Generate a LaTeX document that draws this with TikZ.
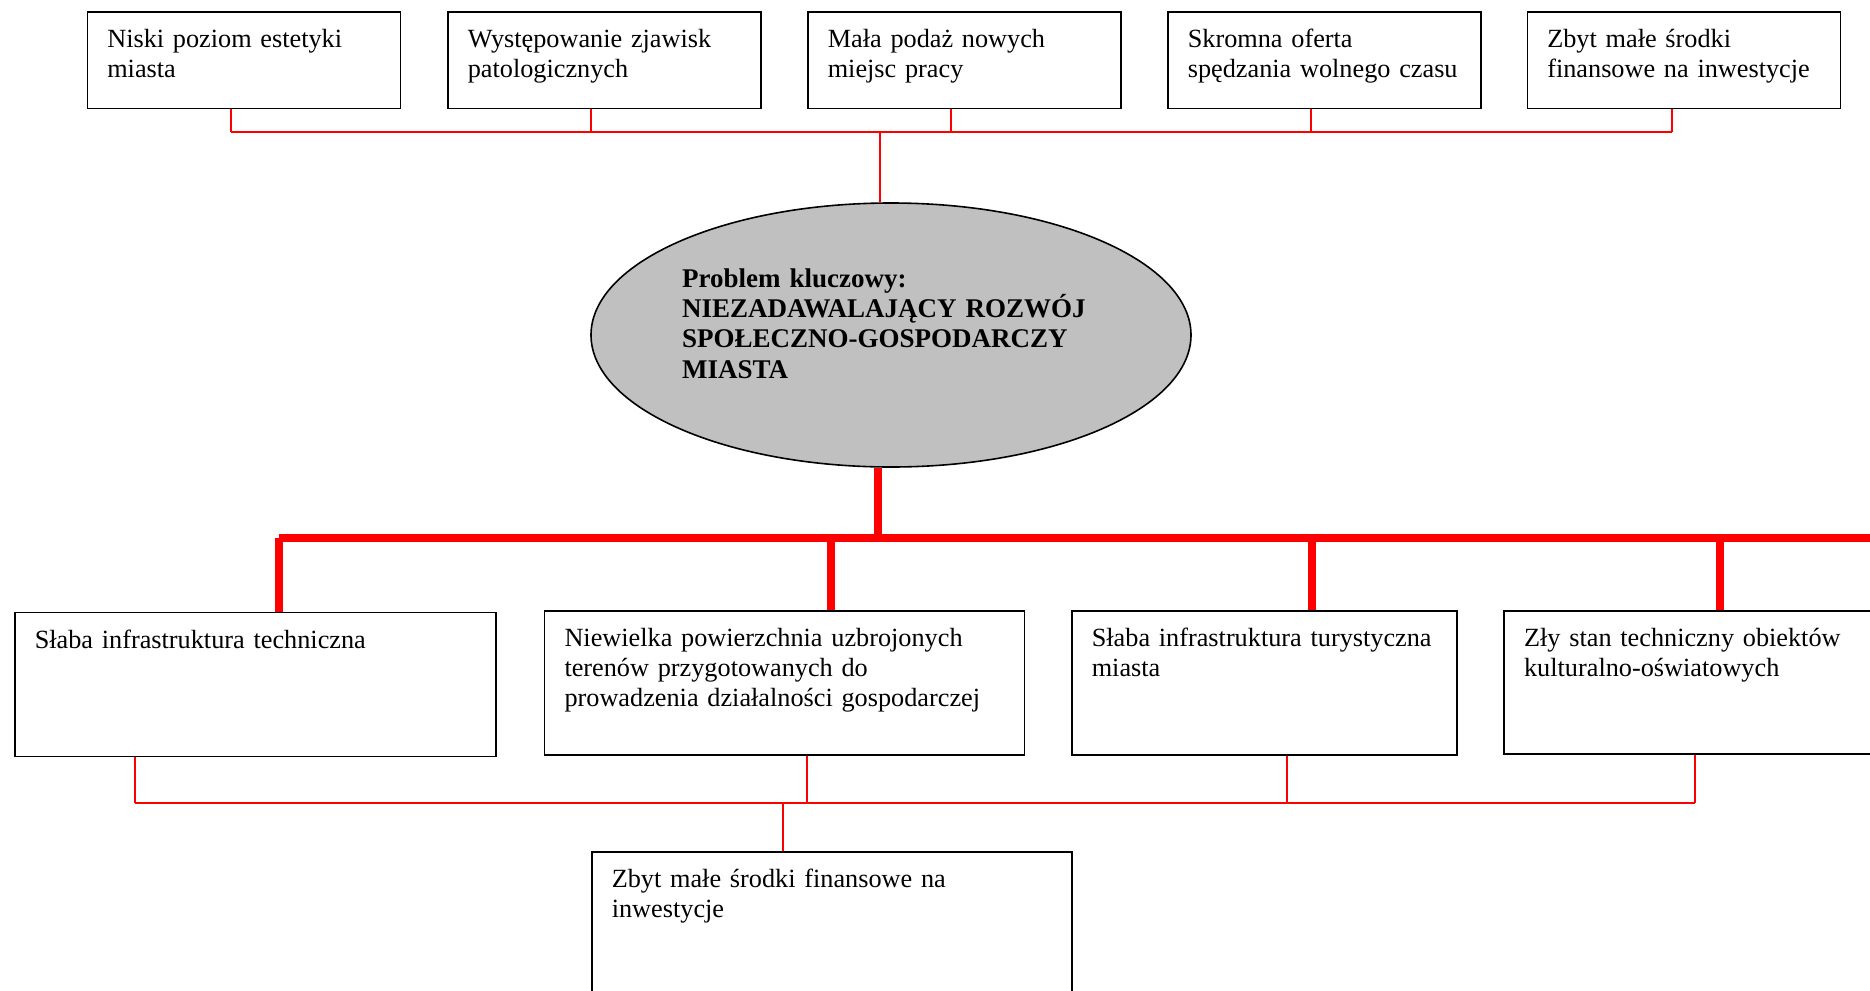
\documentclass[tikz,border=0pt]{standalone}
\usepackage{fontspec}
\setmainfont{Liberation Serif}
\usetikzlibrary{shapes.geometric}
\definecolor{keygray}{RGB}{192,192,192}
\begin{document}
\begin{tikzpicture}[x=0.5pt, y=-0.5pt,
        box/.style={draw, line width=0.8pt, anchor=north west, align=left,
            inner xsep=10pt, inner ysep=0pt, text height=17.75pt,
            font=\fontsize{13.13}{15.15}\selectfont},
        thinred/.style={red, line width=0.8pt},
        thickred/.style={red, line width=3.75pt}]
        \clip (0,0) rectangle (1870,991);
        \foreach \i/\x/\lbl in {1/86.5/{Niski poziom estetyki\\miasta},
            2/447/{Występowanie zjawisk\\patologicznych},
            3/807/{Mała podaż nowych\\miejsc pracy},
            4/1167/{Skromna oferta\\spędzania wolnego czasu},
            5/1526.5/{Zbyt małe środki\\finansowe na inwestycje}}
            \node[box, text width=136.5pt, text depth=30.6pt] (e\i) at (\x,11) {\lbl};
        \node[ellipse, draw, fill=keygray, line width=0.8pt, minimum width=300pt,
            minimum height=132pt, inner sep=0pt] (key) at (891,335) {};
        \node[anchor=north west, align=left, text width=215pt, inner sep=0pt,
            text height=17.75pt, font=\bfseries\fontsize{13.5}{15.15}\selectfont]
            (keytext) at (681.7,251.2)
            {Problem kluczowy:\\NIEZADAWALAJĄCY ROZWÓJ\\SPOŁECZNO-GOSPODARCZY\\MIASTA};
        \node[box, text width=220.65pt, text depth=54.25pt] (c1) at (14,611.7)
            {Słaba infrastruktura techniczna};
        \node[box, text width=219.9pt, text depth=54.4pt] (c2) at (543.7,610)
            {Niewielka powierzchnia uzbrojonych\\terenów przygotowanych do\\prowadzenia działalności gospodarczej};
        \node[box, text width=172.5pt, text depth=54.4pt] (c3) at (1071,610)
            {Słaba infrastruktura turystyczna\\miasta};
        \node[box, text width=180pt, text depth=53.9pt] (c4) at (1503.3,610)
            {Zły stan techniczny obiektów\\kulturalno-oświatowych};
        \node[box, text width=220.2pt, text depth=70pt] (fin) at (591,851)
            {Zbyt małe środki finansowe na\\inwestycje};
        \coordinate (topbus) at (231,132);
        \coordinate (topbusend) at (1672,132);
        \foreach \i/\x in {1/231,2/591,3/951,4/1311,5/1672}
            \draw[thinred] (e\i.south -| \x,0) -- (\x,0 |- topbus);
        \draw[thinred] (topbus) -- (topbusend);
        \draw[thinred] (key.north -| 880,0) -- (880,0 |- topbus);
        \coordinate (bus) at (279,538);
        \coordinate (busend) at (1880,538);
        \draw[thickred] (key.south -| 878,0) -- (878,0 |- bus);
        \draw[thickred] (bus) -- (busend);
        \foreach \i/\x in {1/279,2/831,3/1312,4/1720}
            \draw[thickred] (c\i.north -| \x,0) -- (\x,0 |- bus);
        \coordinate (lowbus) at (135,803);
        \coordinate (lowbusend) at (1695,803);
        \foreach \i/\x in {1/135,2/807,3/1287,4/1695}
            \draw[thinred] (c\i.south -| \x,0) -- (\x,0 |- lowbus);
        \draw[thinred] (lowbus) -- (lowbusend);
        \draw[thinred] (fin.north -| 783,0) -- (783,0 |- lowbus);
    \end{tikzpicture}
\end{document}
